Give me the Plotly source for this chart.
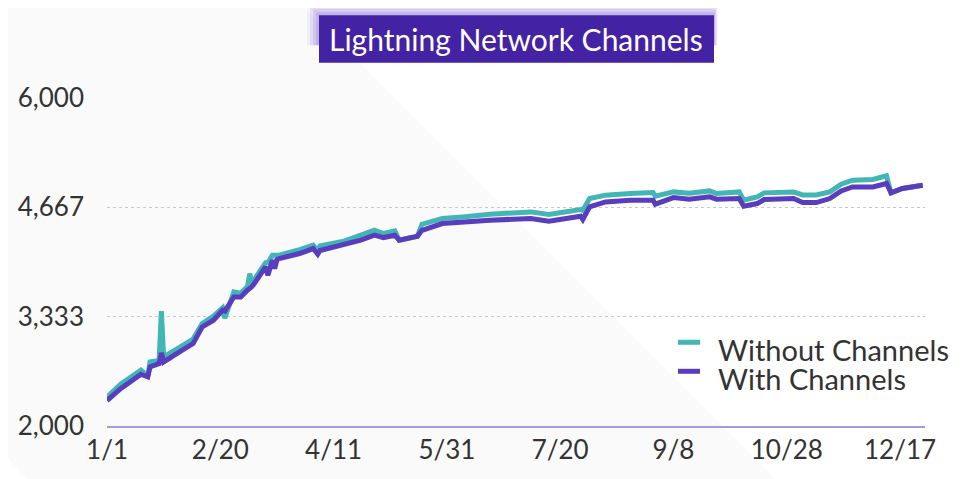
import pandas as pd
import plotly.graph_objects as go

# days since 1/1
day_offsets = [0, 6, 15, 18, 19, 23, 24, 25, 32, 38, 42, 47, 51, 52, 56, 59, 62, 63, 64, 66,
               70, 71, 73, 74, 75, 76, 85, 91, 93, 94, 100, 104, 112, 118, 122, 127, 129, 137,
               139, 148, 157, 169, 187, 195, 209, 210, 213, 220, 231, 241, 242, 250, 257, 266,
               269, 279, 281, 287, 290, 303, 307, 313, 319, 324, 329, 338, 344, 346, 351, 360]

without_channels = [2350, 2509, 2680, 2610, 2781, 2800, 3400, 2842, 2960, 3060, 3250, 3340, 3440,
                    3314, 3635, 3620, 3700, 3859, 3720, 3830, 3990, 3990, 4083, 4083, 4085, 4083,
                    4152, 4205, 4140, 4195, 4230, 4250, 4327, 4387, 4347, 4379, 4266, 4314, 4461,
                    4530, 4550, 4583, 4611, 4579, 4640, 4630, 4774, 4815, 4835, 4847, 4802, 4855,
                    4840, 4867, 4835, 4855, 4754, 4794, 4843, 4855, 4818, 4818, 4855, 4949, 4998,
                    5006, 5050, 4843, 4896, 4937]

with_channels = [2310, 2456, 2631, 2598, 2720, 2761, 2891, 2781, 2903, 3005, 3208, 3290, 3412,
                 3400, 3574, 3574, 3656, 3680, 3700, 3778, 3940, 3838, 4022, 3920, 4030, 4042,
                 4103, 4164, 4095, 4140, 4184, 4200, 4266, 4327, 4298, 4327, 4266, 4314, 4387,
                 4469, 4489, 4510, 4530, 4497, 4558, 4518, 4672, 4733, 4754, 4754, 4705, 4786,
                 4766, 4794, 4766, 4774, 4680, 4713, 4762, 4774, 4725, 4725, 4774, 4867, 4916,
                 4916, 4957, 4843, 4896, 4937]

series_names = ["Without Channels", "With Channels"]

tick_dates = ["2019-01-01", "2019-02-20", "2019-04-11", "2019-05-31",
              "2019-07-20", "2019-09-08", "2019-10-28", "2019-12-17"]
tick_text = ["1/1", "2/20", "4/11", "5/31", "7/20", "9/8", "10/28", "12/17"]

y_ticks = [2000, 3333, 4667, 6000]
y_text = ["2,000", "3,333", "4,667", "6,000"]

dates = pd.Timestamp("2019-01-01") + pd.to_timedelta(day_offsets, unit="D")

TEAL = "#41b6b4"
PURPLE = "#5a3cbf"
FONT = "Lato"

# the page body has an 8px margin, so the figure is drawn 8px in and down
OFF = 8
W, H = 973 - OFF, 479 - OFF
# plot area edges in window pixels
L, R, T, B = 107, 925, 97.8, 425.7


def px(x):
    return (x - L) / (R - L)


def py(y):
    return (B - y) / (B - T)


fig = go.Figure()
fig.add_trace(go.Scatter(x=dates, y=without_channels, mode="lines", name=series_names[0],
                         line=dict(color=TEAL, width=5)))
fig.add_trace(go.Scatter(x=dates, y=with_channels, mode="lines", name=series_names[1],
                         line=dict(color=PURPLE, width=5)))

shapes = []
# light grey diagonal band behind the chart
shapes.append(dict(type="path", xref="paper", yref="paper", layer="below",
                   path="M {} {} L {} {} L {} {} L {} {} L {} {} Z".format(
                       px(0), py(0), px(297), py(0), px(776), py(479), px(28), py(479), px(0), py(450)),
                   fillcolor="#fafafa", line=dict(width=0)))
# soft glow around the title box
for i, op in enumerate([0.07, 0.10, 0.13, 0.18]):
    g = 12 - i * 3
    shapes.append(dict(type="rect", xref="paper", yref="paper", layer="above",
                       x0=px(319 - g), x1=px(714 + g * 0.3), y0=py(45), y1=py(15 - g),
                       fillcolor="#6a45c8", opacity=op, line=dict(width=0)))
shapes.append(dict(type="rect", xref="paper", yref="paper", layer="above",
                   x0=px(319), x1=px(714), y0=py(62.5), y1=py(15),
                   fillcolor="#4322a3", line=dict(width=0)))

annotations = [dict(text="Lightning Network Channels", xref="paper", yref="paper",
                    x=px(516.5), y=py(39), xanchor="center", yanchor="middle",
                    showarrow=False, font=dict(family=FONT, size=30, color="white"))]

# legend: short swatch + label per series
for name, color, sy, ty in [(series_names[0], TEAL, 342, 349), (series_names[1], PURPLE, 371, 378)]:
    shapes.append(dict(type="line", xref="paper", yref="paper", layer="above",
                       x0=px(678), x1=px(700), y0=py(sy), y1=py(sy),
                       line=dict(color=color, width=5)))
    annotations.append(dict(text=name, xref="paper", yref="paper", x=px(716), y=py(ty),
                            xanchor="left", yanchor="middle", showarrow=False,
                            font=dict(family=FONT, size=29, color="#333333")))

fig.update_layout(
    width=W, height=H,
    margin=dict(l=L - OFF, r=W - (R - OFF), t=T - OFF, b=H - (B - OFF), autoexpand=False),
    paper_bgcolor="white",
    plot_bgcolor="rgba(0,0,0,0)",
    font=dict(family=FONT, color="#333333", size=26),
    shapes=shapes,
    annotations=annotations,
    showlegend=False,
)

fig.update_xaxes(
    type="date",
    range=["2019-01-01", "2019-12-28"],
    tickvals=tick_dates, ticktext=tick_text,
    showgrid=False, zeroline=False,
    showline=True, linecolor="#a999dc", linewidth=2,
    ticks="", ticklabelstandoff=0,
)
fig.update_yaxes(
    range=[2000, 6000],
    tickvals=y_ticks, ticktext=y_text,
    showgrid=True, gridcolor="#c8c8c8", griddash="dot", gridwidth=1,
    zeroline=False, showline=False, ticks="", ticklabelstandoff=22,
)

fig.write_html("out.html")
